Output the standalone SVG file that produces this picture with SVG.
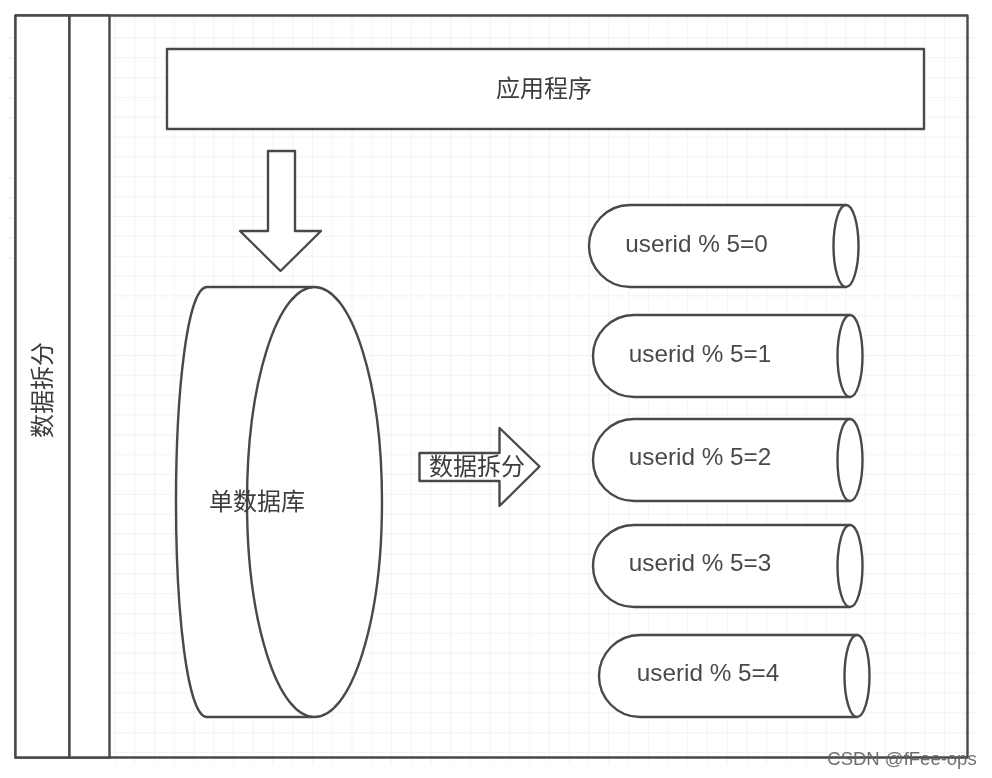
<svg xmlns="http://www.w3.org/2000/svg" width="992" height="778" viewBox="0 0 992 778">
<style>
.s{fill:#fff;stroke:#484848;stroke-width:2.4;stroke-linejoin:round}
.t{font-family:"Liberation Sans","Noto Sans CJK SC",sans-serif;font-size:24.300px;fill:#4a4a4a;text-anchor:middle}
.c{font-family:"Noto Sans CJK SC","Liberation Sans",sans-serif;font-size:24px;fill:#3c3c3c;text-anchor:middle}
.g{stroke:#efefef;stroke-width:1.400;fill:none}
</style>
<defs>
<pattern id="grid" x="115.500" y="18.500" width="19.750" height="19.850" patternUnits="userSpaceOnUse">
<path class="g" d="M19.750 0V19.850M0 19.850H19.750"/>
</pattern>
<filter id="soft" x="0" y="0" width="100%" height="100%" filterUnits="userSpaceOnUse" primitiveUnits="userSpaceOnUse">
<feGaussianBlur stdDeviation="0.5"/>
</filter>
</defs>
<rect width="992" height="778" fill="#fff"/>
<g filter="url(#soft)">
<g id="grid-bg">
<rect x="110" y="16" width="866" height="748" fill="url(#grid)"/>
<path class="g" d="M8 38H16M8 58H16M8 78H16M8 98H16M8 118H16M8 178H16M8 198H16M8 218H16M8 238H16M8 258H16"/>
</g>
<g id="pool">
<rect class="s" style="fill:none" x="15.500" y="15.500" width="952" height="742"/>
<rect class="s" x="15.500" y="15.500" width="54" height="742"/>
<rect class="s" x="69.500" y="15.500" width="40" height="742"/>
<text class="c" transform="translate(43 390) rotate(-90)" dy="8">数据拆分</text>
</g>
<g id="app">
<rect class="s" x="167" y="49" width="757" height="80"/>
<text class="c" x="544" y="97">应用程序</text>
</g>
<g id="connectors">
<path id="down-arrow" class="s" d="M268 151H295V231H321L280.500 271L240 231H268Z"/>
<g id="split-arrow">
<path class="s" d="M419.500 453H499.500V428L539.500 466.500L499.500 506V481H419.500Z"/>
<text class="c" x="477" y="475">数据拆分</text>
</g>
</g>
<g id="single-db">
<path class="s" d="M207 287H312V717H207C187 717 176 610 176 502C176 394 187 287 207 287Z"/>
<ellipse class="s" cx="314.500" cy="502" rx="67.500" ry="215"/>
<text class="c" x="257" y="510">单数据库</text>
</g>
<g id="shard0">
<path class="s" d="M630 205H846V287H630C607 287 589 268 589 246C589 224 607 205 630 205Z"/>
<ellipse class="s" cx="846" cy="246" rx="12.500" ry="41"/>
<text class="t" x="696.500" y="252">userid % 5=0</text>
</g>
<g id="shard1">
<path class="s" d="M634 315H850V397H634C611 397 593 378 593 356C593 334 611 315 634 315Z"/>
<ellipse class="s" cx="850" cy="356" rx="12.500" ry="41"/>
<text class="t" x="700" y="362">userid % 5=1</text>
</g>
<g id="shard2">
<path class="s" d="M634 419H850V501H634C611 501 593 482 593 460C593 438 611 419 634 419Z"/>
<ellipse class="s" cx="850" cy="460" rx="12.500" ry="41"/>
<text class="t" x="700" y="465">userid % 5=2</text>
</g>
<g id="shard3">
<path class="s" d="M634 525H850V607H634C611 607 593 588 593 566C593 544 611 525 634 525Z"/>
<ellipse class="s" cx="850" cy="566" rx="12.500" ry="41"/>
<text class="t" x="700" y="571">userid % 5=3</text>
</g>
<g id="shard4">
<path class="s" d="M640 635H857V717H640C617 717 599 698 599 676C599 654 617 635 640 635Z"/>
<ellipse class="s" cx="857" cy="676" rx="12.500" ry="41"/>
<text class="t" x="708" y="681">userid % 5=4</text>
</g>
<text id="watermark" x="902" y="765" font-family="'Liberation Sans',sans-serif" font-size="18.500" fill="#5f5f5f" fill-opacity=".9" text-anchor="middle">CSDN @fFee-ops</text>
</g>
</svg>
